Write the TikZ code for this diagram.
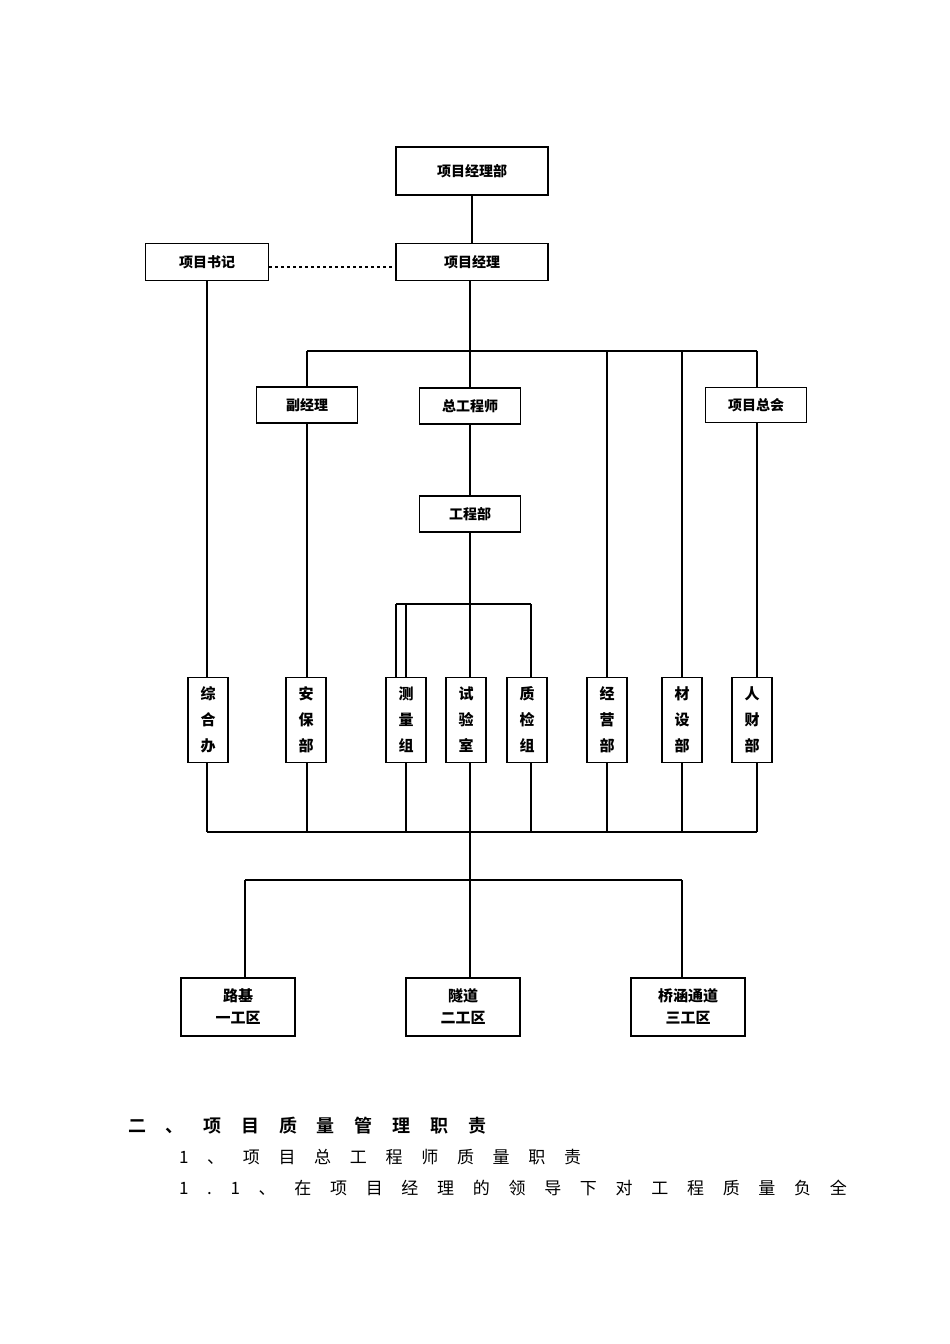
\documentclass[tikz,border=0pt]{standalone}
\usepackage{fontspec}
\setmainfont{Noto Sans CJK SC}
\newfontfamily\cjkb[LetterSpace=110]{Noto Sans CJK SC Bold}
\newfontfamily\cjkr[LetterSpace=110]{Noto Sans CJK SC}
\begin{document}
\begin{tikzpicture}[x=1pt,y=-1pt,line width=2pt,
  box/.style={draw,line width=1.5pt,fill=white,font=\bfseries\fontsize{14}{16}\selectfont,inner sep=0pt,align=center},
  hb/.style={box,minimum width=101pt,minimum height=36pt},
  vb/.style={box,minimum width=40pt,minimum height=85pt,font=\bfseries\fontsize{15}{26}\selectfont},
  bb/.style={box,minimum width=114pt,minimum height=58pt,font=\bfseries\fontsize{15}{22}\selectfont}]
\useasboundingbox (0,0) rectangle (950,1344);
% lines first
\draw (472,195) -- (472,243);
\draw[dashed,line width=1.5pt] (269,267) -- (396,267);
\draw (470,280) -- (470,880);
\draw (307,351) -- (757,351);
\draw (207,280) -- (207,832);
\draw (307,351) -- (307,832);
\draw (607,351) -- (607,832);
\draw (682,351) -- (682,832);
\draw (757,351) -- (757,832);
\draw (396,604) -- (531,604);
\draw (406,604) -- (406,832);
\draw (531,604) -- (531,832);
\draw (396,604) -- (396,677);
\draw (207,832) -- (757,832);
\draw (245,880) -- (682,880);
\draw (245,880) -- (245,978);
\draw (682,880) -- (682,978);
\draw (470,880) -- (470,978);
% boxes
\node[hb,minimum width=152pt,minimum height=48pt] (pm) at (472,171) {项目经理部};
\node[hb,minimum width=152pt,minimum height=37pt] (m) at (472,262) {项目经理};
\node[hb,minimum width=123pt,minimum height=37pt] (sj) at (207,262) {项目书记};
\node[hb] (fj) at (307,405) {副经理};
\node[hb] (zg) at (470,406) {总工程师};
\node[hb,minimum height=35pt] (zk) at (756,405) {项目总会};
\node[hb] (gc) at (470,514) {工程部};
\node[vb] (v1) at (208,720) {综\\合\\办};
\node[vb] (v2) at (306,720) {安\\保\\部};
\node[vb] (v3) at (406,720) {测\\量\\组};
\node[vb] (v4) at (466,720) {试\\验\\室};
\node[vb] (v5) at (527,720) {质\\检\\组};
\node[vb] (v6) at (607,720) {经\\营\\部};
\node[vb] (v7) at (682,720) {材\\设\\部};
\node[vb] (v8) at (752,720) {人\\财\\部};
\node[bb] (b1) at (238,1007) {路基\\一工区};
\node[bb] (b2) at (463,1007) {隧道\\二工区};
\node[bb] (b3) at (688,1007) {桥涵通道\\三工区};
% text
\node[anchor=west,inner sep=0pt,font=\cjkb\fontsize{18}{20}\selectfont] (t1) at (127,1126) {二、项目质量管理职责};
\node[anchor=west,inner sep=0pt,font=\cjkr\fontsize{17}{20}\selectfont] (t2) at (178,1157) {1、项目总工程师质量职责};
\node[anchor=west,inner sep=0pt,font=\cjkr\fontsize{17}{20}\selectfont] (t3) at (178,1188) {1.1、在项目经理的领导下对工程质量负全};
\end{tikzpicture}
\end{document}
